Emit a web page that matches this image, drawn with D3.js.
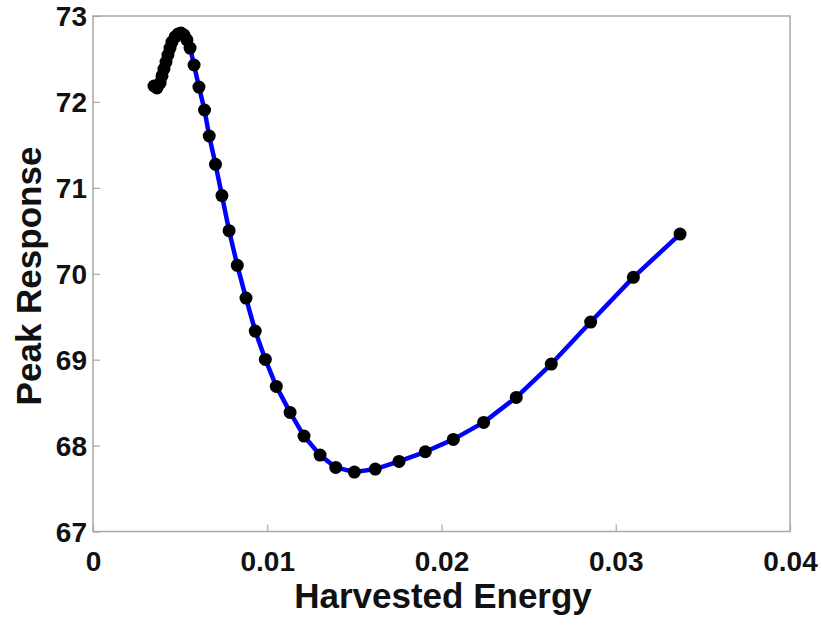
<!DOCTYPE html>
<html>
<head>
<meta charset="utf-8">
<script src="https://cdn.jsdelivr.net/npm/d3@7"></script>
<style>
  html, body { margin: 0; padding: 0; background: #fff; }
  svg text { font-family: "Liberation Sans", Arial, sans-serif; font-weight: bold; fill: #111; }
</style>
</head>
<body>
<svg id="chart" width="822" height="629"></svg>
<script>
const energy = [0.00350, 0.00367, 0.00385, 0.00396, 0.00407, 0.00419, 0.00430, 0.00442, 0.00453, 0.00471,
  0.00488, 0.00505, 0.00522, 0.00539, 0.00557, 0.00580, 0.00608, 0.00640, 0.00667, 0.00703,
  0.00740, 0.00781, 0.00828, 0.00878, 0.00931, 0.00989, 0.01052, 0.01131, 0.01211, 0.01303,
  0.01393, 0.01500, 0.01620, 0.01756, 0.01907, 0.02068, 0.02242, 0.02429, 0.02630, 0.02856,
  0.03101, 0.03369];
const response = [72.185, 72.162, 72.220, 72.302, 72.383, 72.464, 72.546, 72.627, 72.697, 72.756,
  72.790, 72.802, 72.779, 72.721, 72.627, 72.430, 72.173, 71.906, 71.603, 71.274,
  70.910, 70.501, 70.098, 69.717, 69.333, 69.003, 68.689, 68.386, 68.111, 67.889,
  67.746, 67.692, 67.726, 67.816, 67.928, 68.072, 68.270, 68.561, 68.949, 69.438,
  69.958, 70.462];
const xTicks = [0, 0.01, 0.02, 0.03, 0.04];
const xTickLabels = ["0", "0.01", "0.02", "0.03", "0.04"];
const yTicks = [67, 68, 69, 70, 71, 72, 73];
const xLabel = "Harvested Energy";
const yLabel = "Peak Response";

const svg = d3.select("#chart");
const mLeft = 93, mTop = 16, mRight = 790, mBottom = 531.5;
const x = d3.scaleLinear().domain([0, 0.04]).range([mLeft, mRight]);
const y = d3.scaleLinear().domain([67, 73]).range([mBottom, mTop]);
const axisColor = "#a8a8a8";

// frame
svg.append("rect").attr("x", mLeft).attr("y", mTop).attr("width", mRight - mLeft).attr("height", mBottom - mTop)
  .attr("fill", "none").attr("stroke", axisColor).attr("stroke-width", 1.5);

// axes with inward ticks
const xAxis = svg.append("g").attr("transform", `translate(0,${mBottom})`)
  .call(d3.axisBottom(x).tickValues(xTicks).tickSize(-7).tickSizeOuter(0).tickFormat((d, i) => xTickLabels[i]));
xAxis.select(".domain").remove();
xAxis.selectAll(".tick line").attr("stroke", axisColor).attr("stroke-width", 1.2);
xAxis.selectAll(".tick text").attr("font-size", 28).attr("dy", 0).attr("y", 39).attr("fill", "#111");

const yAxis = svg.append("g").attr("transform", `translate(${mLeft},0)`)
  .call(d3.axisLeft(y).tickValues(yTicks).tickSize(-7).tickSizeOuter(0).tickFormat(d3.format("d")));
yAxis.select(".domain").remove();
yAxis.selectAll(".tick line").attr("stroke", axisColor).attr("stroke-width", 1.2);
yAxis.selectAll(".tick text").attr("font-size", 28).attr("x", -6).attr("dy", "0.35em").attr("fill", "#111");

// line
const pts = energy.map((e, i) => [e, response[i]]);
svg.append("path").datum(pts)
  .attr("fill", "none").attr("stroke", "#0000ff").attr("stroke-width", 4.5).attr("stroke-linejoin", "round")
  .attr("d", d3.line().x(d => x(d[0])).y(d => y(d[1])));

// markers
svg.append("g").selectAll("circle").data(pts).join("circle")
  .attr("cx", d => x(d[0])).attr("cy", d => y(d[1])).attr("r", 6.5).attr("fill", "#000");

// labels
svg.append("text").attr("x", 443).attr("y", 608).attr("text-anchor", "middle").attr("font-size", 35).text(xLabel);
svg.append("text").attr("transform", "translate(41,276) rotate(-90)").attr("text-anchor", "middle")
  .attr("font-size", 35).text(yLabel);
</script>
</body>
</html>
